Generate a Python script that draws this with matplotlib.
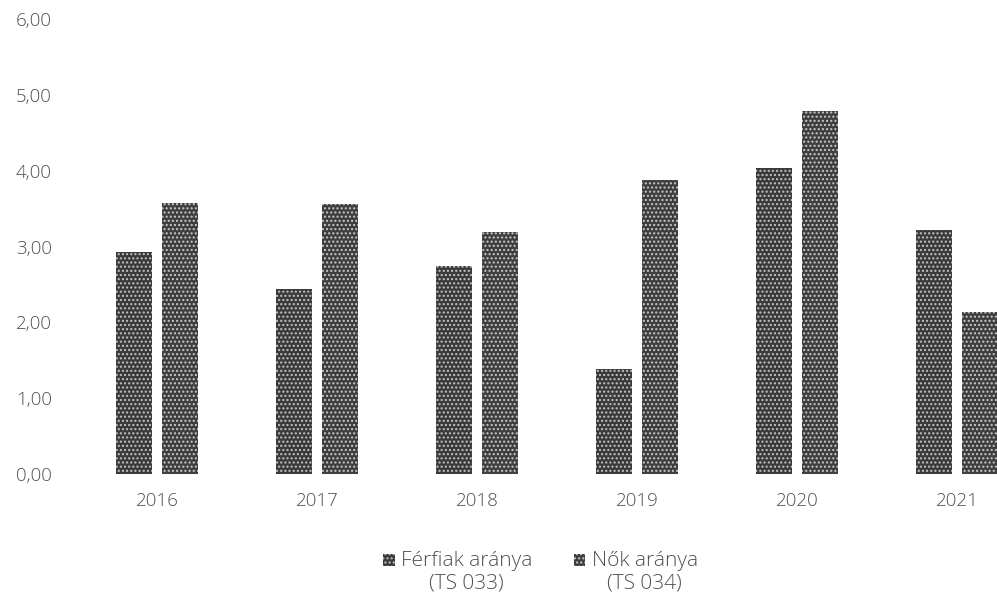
import matplotlib
matplotlib.use("Agg")
import matplotlib.pyplot as plt
import numpy as np

years = ["2016", "2017", "2018", "2019", "2020", "2021"]
ferfiak = [2.93, 2.44, 2.74, 1.39, 4.04, 3.22]
nok = [3.57, 3.56, 3.19, 3.88, 4.79, 2.14]
labels = ["Férfiak aránya\n(TS 033)", "Nők aránya\n(TS 034)"]
yticks = [0, 1, 2, 3, 4, 5, 6]
ytick_labels = ["0,00", "1,00", "2,00", "3,00", "4,00", "5,00", "6,00"]

plt.rcParams['font.family'] = ['Open Sans', 'DejaVu Sans']
plt.rcParams['hatch.linewidth'] = 1.0

fig = plt.figure(figsize=(9.97, 6.0), dpi=100)
ax = fig.add_axes([0.0772, 0.21, 0.963, 0.7583])

x = np.arange(len(years))
w = 0.225
off = 0.145
b1 = ax.bar(x - off, ferfiak, w, facecolor="#3a3a3a", edgecolor="#c4c4c4",
            hatch="....", linewidth=0, label=labels[0])
b2 = ax.bar(x + off, nok, w, facecolor="#3e3e3e", edgecolor="#c8c8c8",
            hatch="....", linewidth=0, label=labels[1])

ax.set_xlim(-0.5, 5.5)
ax.set_ylim(0, 6)
ax.set_xticks(x)
ax.set_xticklabels(years)
ax.set_yticks(yticks)
ax.set_yticklabels(ytick_labels)
for s in ax.spines.values():
    s.set_visible(False)
ax.tick_params(axis='both', length=0, labelsize=13.5, labelcolor="#505050")
ax.tick_params(axis='y', pad=18)
ax.tick_params(axis='x', pad=13)
for t in ax.get_xticklabels() + ax.get_yticklabels():
    t.set_fontweight('light')

leg = fig.legend(handles=[b1, b2], labels=labels, loc="upper center",
                 bbox_to_anchor=(0.542, 0.113), ncol=2, frameon=False,
                 fontsize=15, handlelength=0.55, handleheight=0.55,
                 handletextpad=0.3, columnspacing=2.0)
for t in leg.get_texts():
    t.set_color("#505050")
    t.set_multialignment("center")
    t.set_linespacing(1.2)
    t.set_fontweight('light')
for p in leg.get_patches():
    p.set_y(p.get_y() + 9)

fig.savefig("out.png", dpi=100)
